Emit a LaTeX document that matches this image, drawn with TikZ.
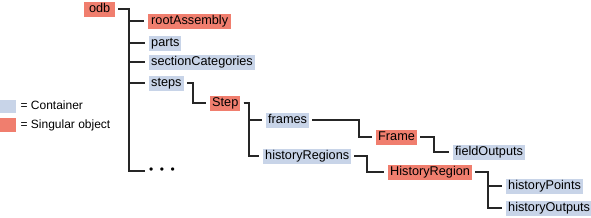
\documentclass[tikz,border=0pt]{standalone}
\usepackage{fontspec}
\setmainfont{Liberation Sans}
\usepackage{tikz}
\usetikzlibrary{positioning}

\definecolor{contblue}{RGB}{200,212,232}
\definecolor{singred}{RGB}{240,126,110}

\begin{document}
\begin{tikzpicture}[x=1pt, y=-1pt,
        obj/.style={anchor=west, inner xsep=2pt, inner ysep=1.5pt,
                    text height=9pt, text depth=3pt, font=\fontsize{12.7}{14}\selectfont},
        cont/.style={obj, fill=contblue},
        sing/.style={obj, fill=singred},
        keytext/.style={obj, inner xsep=0pt, font=\fontsize{12}{14}\selectfont},
        link/.style={draw=black!85, line width=1.2pt, shorten <=3pt, shorten >=4pt}
    ]
        \useasboundingbox (0,0) rectangle (591,217);

        % legend
        \node[fill=contblue, anchor=west, minimum width=16pt, minimum height=13pt, inner sep=0pt] (keycont) at (0,106) {};
        \node[keytext, right=4pt of keycont] (keycontlbl) {= Container};
        \node[fill=singred, anchor=west, minimum width=16pt, minimum height=14pt, inner sep=0pt] (keysing) at (0,125) {};
        \node[keytext, right=4pt of keysing] (keysinglbl) {= Singular object};

        % odb and its members
        \node[sing, minimum width=31pt] (odb) at (84,9) {odb};
        \node[sing, minimum width=83pt, align=left] (root) at (148,21) {rootAssembly\hfill};
        \node[cont] (parts) at (149,43) {parts};
        \node[cont] (seccat) at (149,62) {sectionCategories};
        \node[cont] (steps) at (149,83) {steps};
        \node[anchor=west, inner sep=0pt, font=\fontsize{12}{14}\selectfont] (more) at (149,171)
            {\textbullet\hspace{6.5pt}\textbullet\hspace{6.5pt}\textbullet};

        % steps
        \node[sing] (step) at (210,103) {Step};
        \node[cont] (frames) at (266,120) {frames};
        \node[cont] (hregions) at (263,156) {historyRegions};
        \node[sing] (frame) at (376,137) {Frame};
        \node[cont] (fieldout) at (453,152) {fieldOutputs};
        \node[sing] (hregion) at (388,172) {HistoryRegion};
        \node[cont] (hpoints) at (506,186) {historyPoints};
        \node[cont] (houtputs) at (506,208) {historyOutputs};

        % junctions
        \coordinate (odbj) at (129,9);
        \coordinate (stepsj) at (193,83);
        \coordinate (stepj) at (249,103);
        \coordinate (framesj) at (359,120);
        \coordinate (framej) at (434,137);
        \coordinate (hregionsj) at (367,156);
        \coordinate (hregionj) at (488,172);

        \draw[link] (odb.east) -- (odbj) |- (root.west);
        \draw[link] (odb.east) -- (odbj) |- (parts.west);
        \draw[link] (odb.east) -- (odbj) |- (seccat.west);
        \draw[link] (odb.east) -- (odbj) |- (steps.west);
        \draw[link] (odb.east) -- (odbj) |- (more.west);
        \draw[link] (steps.east) -- (stepsj) |- (step.west);
        \draw[link] (step.east) -- (stepj) |- (frames.west);
        \draw[link] (step.east) -- (stepj) |- (hregions.west);
        \draw[link] (frames.east) -- (framesj) |- (frame.west);
        \draw[link] (frame.east) -- (framej) |- (fieldout.west);
        \draw[link] (hregions.east) -- (hregionsj) |- (hregion.west);
        \draw[link] (hregion.east) -- (hregionj) |- (hpoints.west);
        \draw[link] (hregion.east) -- (hregionj) |- (houtputs.west);
    \end{tikzpicture}
\end{document}
